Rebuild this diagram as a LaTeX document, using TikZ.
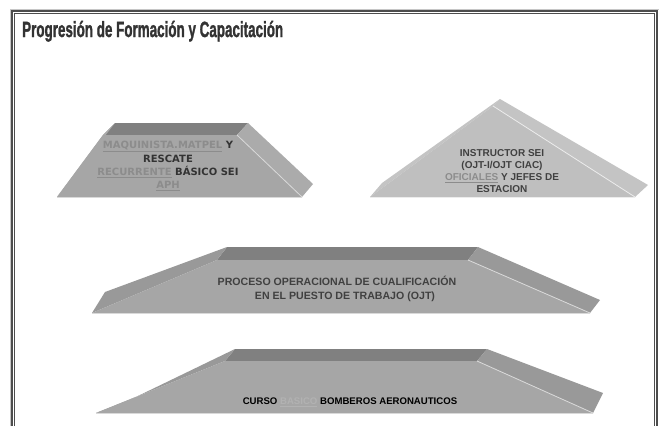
\documentclass[tikz,border=0pt]{standalone}
\usepackage{fontspec}
\setmainfont{Liberation Sans}
\newfontfamily\verdfont{DejaVu Sans}
\newfontfamily\titlefont{Liberation Sans}[BoldFeatures={FakeBold=1.6}]
\usepackage{graphicx}

\definecolor{titlegray}{HTML}{333333}
\definecolor{framedark}{HTML}{4D4D4D}
\definecolor{bandgray}{HTML}{808080}
\definecolor{facegray}{HTML}{A6A6A6}
\definecolor{sidegray}{HTML}{999999}
\definecolor{softside}{HTML}{ABABAB}
\definecolor{palegray}{HTML}{BFBFBF}
\definecolor{paleside}{HTML}{C4C4C4}
\definecolor{labelgray}{HTML}{404040}
\definecolor{linkgray}{HTML}{8C8C8C}

% hyperlink-like words
\newcommand{\lnk}[1]{{\color{linkgray}\underline{#1}}}

% front TL, front TR, front BR, front BL, back TL, back TR, back BR, back BL
\newcommand{\slab}[8]{%
  \fill[topface] #5 -- #6 -- #2 -- #1 -- cycle;
  \fill[sideface] #8 -- #5 -- #1 -- #4 -- cycle;
  \fill[sideface] #2 -- #6 -- #7 -- #3 -- cycle;
  \fill[frontface] #1 -- #2 -- #3 -- #4 -- cycle;
  \draw[hiline] #2 -- #3;
  \draw[hiline] #4 -- #3;
}

\begin{document}
\begin{tikzpicture}[x=1pt,y=-1pt,
  topface/.style={fill=bandgray},
  sideface/.style={fill=sidegray},
  frontface/.style={fill=facegray},
  hiline/.style={draw=gray!30, line width=0.8pt},
  lbl/.style={font=\bfseries\fontsize{10.6}{14}\selectfont, text=labelgray, align=center, inner sep=0pt}]
\useasboundingbox (0,0) rectangle (659,426);
\fill[white] (0,0) rectangle (659,426);

% frame
\draw[gray!45, line width=0.8pt] (10.2,426) |- (659,9.2);
\draw[framedark, line width=2.2pt] (12,426) |- (657,11.2) -- (657,426);
\draw[framedark, line width=0.9pt] (14.7,426) |- (654.3,13.8) -- (654.3,426);

\node (title) [anchor=base west, inner sep=0pt, text=titlegray] at (22,37)
  {\scalebox{0.61}[1]{\titlefont\bfseries\fontsize{22}{22}\selectfont Progresión de Formación y Capacitación}};

% upper left
\begin{scope}[sideface/.style={fill=softside}]
\slab{(103,135)}{(237,135)}{(302,197)}{(57,197)}{(115,123)}{(248,123)}{(313,184)}{(67,185)}
\end{scope}
\node (maq) [lbl, font=\verdfont\bfseries\fontsize{10}{13.3}\selectfont, text=titlegray] at (168,166)
  {\lnk{MAQUINISTA.MATPEL} Y\\RESCATE\\\lnk{RECURRENTE} BÁSICO SEI\\\lnk{APH}};

% upper right
\begin{scope}[topface/.style={fill=palegray}, sideface/.style={fill=paleside}, frontface/.style={fill=palegray}, hiline/.style={draw=gray!15, line width=0.8pt}]
\slab{(493,106)}{(493,106)}{(635,197)}{(370,197)}{(500,99)}{(500,99)}{(648,185)}{(382,183)}
\end{scope}
\node (instr) [lbl, font=\bfseries\fontsize{10}{12}\selectfont] at (502,171)
  {INSTRUCTOR SEI\\(OJT-I/OJT CIAC)\\\lnk{OFICIALES} Y JEFES DE\\ESTACION};

% middle
\slab{(217,260)}{(468,260)}{(590,313)}{(92,313)}{(227,247)}{(478,247)}{(600,300)}{(105,292)}
\node (ojt) [lbl] at (337,289)
  {PROCESO OPERACIONAL DE CUALIFICACIÓN\\\hspace*{16pt}EN EL PUESTO DE TRABAJO (OJT)};

% bottom
\slab{(225,361)}{(477,361)}{(593,413)}{(96,413)}{(235,349)}{(487,349)}{(603,393)}{(111,409)}
\node (curso) [lbl, font=\bfseries\fontsize{9.6}{12}\selectfont, text=black] at (350,402)
  {CURSO {\color{gray!60}\underline{BASICO}} BOMBEROS AERONAUTICOS};
\end{tikzpicture}
\end{document}
